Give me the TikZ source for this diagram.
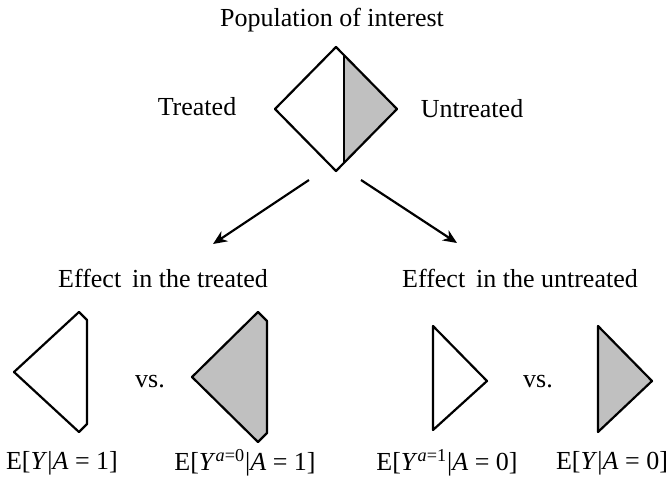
\documentclass[tikz,border=0pt]{standalone}
\usepackage{fontspec}
\setmainfont{Liberation Serif}
\usepackage{tikz}
\definecolor{gg}{RGB}{192, 192, 192}
\usetikzlibrary{arrows.meta}

\begin{document}
\begin{tikzpicture}[x=0.5pt, y=-0.5pt, line join=round,
  every node/.style={inner sep=0pt, font=\fontsize{13}{15}\selectfont},
  shp/.style={line width=1.1pt, draw=black},
  arr/.style={line width=1.1pt, -{Stealth[length=7pt, width=6pt]}}]
\useasboundingbox (0,0) rectangle (670,483);
% top diamond
\node (pop) at (332, 20) {Population of interest};
\node (trt) at (197, 107) {Treated};
\node (unt) at (472, 109) {Untreated};
\fill [gg] (344, 55) -- (397, 109) -- (344, 163) -- cycle;
\draw [shp] (336, 47) -- (397, 109) -- (336, 171) -- (275, 109) -- cycle;
\draw [shp] (344, 55) -- (344, 163);
% arrows
\coordinate (l0) at (309, 180);
\coordinate (l1) at (213, 244);
\coordinate (r0) at (361, 180);
\coordinate (r1) at (457, 243);
\draw [arr] (l0) -- (l1);
\draw [arr] (r0) -- (r1);
% effect in the treated
\node (et) at (163, 278) {Effect\, in the treated};
\draw [shp, fill=white] (79, 312) -- (87, 320) -- (87, 424) -- (79, 432) -- (14, 372) -- cycle;
\node (vs1) at (150, 382) {vs.};
\draw [shp, fill=gg] (258, 312) -- (267, 321) -- (267, 433) -- (258, 442) -- (192, 377) -- cycle;
\node (e1) at (62, 463) {E[\textit{Y}|\textit{A} = 1]};
\node (e2) at (245, 463) {E[\textit{Y}\textsuperscript{\textit{a}=0}|\textit{A} = 1]};
% effect in the untreated
\node (eu) at (520, 278) {Effect\, in the untreated};
\draw [shp, fill=white] (433, 326) -- (487, 381) -- (433, 430) -- cycle;
\node (vs2) at (538, 382) {vs.};
\draw [shp, fill=gg] (598, 326) -- (652, 381) -- (598, 432) -- cycle;
\node (e3) at (447, 463) {E[\textit{Y}\textsuperscript{\textit{a}=1}|\textit{A} = 0]};
\node (e4) at (612, 463) {E[\textit{Y}|\textit{A} = 0]};
\end{tikzpicture}
\end{document}
